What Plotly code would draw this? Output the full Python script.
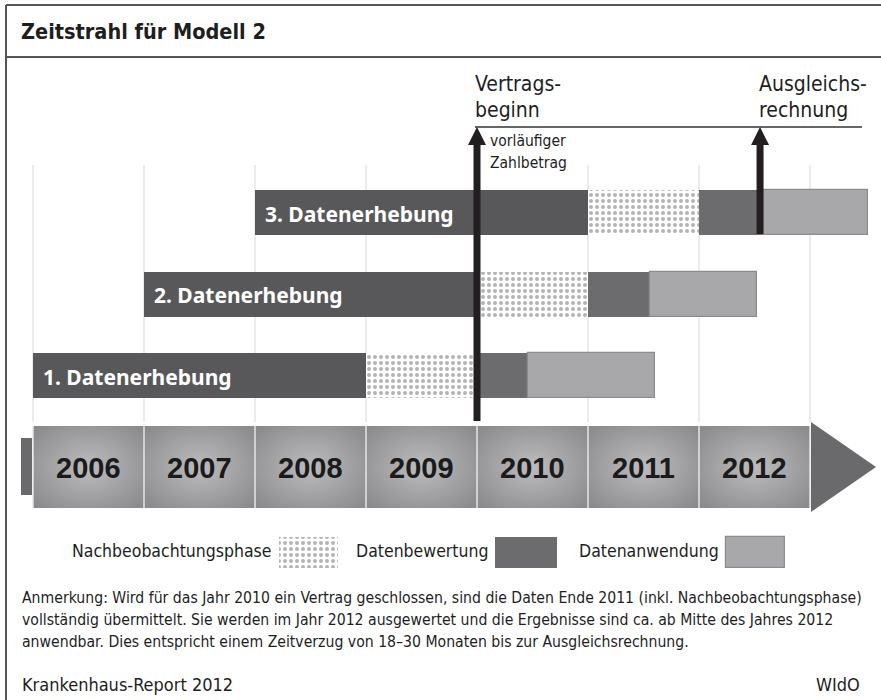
import base64
import plotly.graph_objects as go

# ---------------- data ----------------
years = [2006, 2007, 2008, 2009, 2010, 2011, 2012]
row_labels = ["1. Datenerhebung", "2. Datenerhebung", "3. Datenerhebung"]
erhebung_start = [2006.0, 2007.0, 2008.0]
erhebung_end = [2009.0, 2010.0, 2011.0]
nachbeob_end = [2010.0, 2011.0, 2012.0]
bewertung_end = [2010.46, 2011.56, 2012.58]
anwendung_end = [2011.60, 2012.52, 2013.52]
vertragsbeginn = 2010.0
ausgleichsrechnung = 2012.55
legend_labels = ["Nachbeobachtungsphase", "Datenbewertung", "Datenanwendung"]

title = "Zeitstrahl für Modell 2"
note_lines = [
    "Anmerkung: Wird für das Jahr 2010 ein Vertrag geschlossen, sind die Daten Ende 2011 (inkl. Nachbeobachtungsphase)",
    "vollständig übermittelt. Sie werden im Jahr 2012 ausgewertet und die Ergebnisse sind ca. ab Mitte des Jahres 2012",
    "anwendbar. Dies entspricht einem Zeitverzug von 18–30 Monaten bis zur Ausgleichsrechnung.",
]
source_left = "Krankenhaus-Report 2012"
source_right = "WIdO"

# ---------------- layout constants ----------------
W, H = 881, 700
X0_PX, YEAR_PX = 33.0, 111.0          # pixel of 2006 start, pixels per year
row_y = [375.5, 294.0, 212.5]
bar_h = 45
C_ERH = "#58585a"
C_BEW = "#6c6c6e"
C_ANW = "#a8a8aa"
C_DOT = "#b4b4b4"
C_ARROW = "#231f20"
NARROW = "DejaVu Sans Condensed, sans-serif"
BOLDF = "Noto Sans, Open Sans, sans-serif"
YEARF = "Liberation Sans, Arial, sans-serif"


def yr(px):
    return years[0] + (px - X0_PX) / YEAR_PX


def dx(px):
    return px / YEAR_PX


def px_(v):
    return v / W


def py_(v):
    return 1 - v / H


fig = go.Figure()

dot_marker = dict(color="white", line=dict(width=0),
                  pattern=dict(shape=".", fgcolor=C_DOT, bgcolor="white",
                               size=6, solidity=0.35, fillmode="replace"))
# ---------------- bars ----------------
phases = [
    (erhebung_start, erhebung_end, dict(color=C_ERH, line=dict(width=0))),
    (erhebung_end, nachbeob_end, dot_marker),
    (nachbeob_end, bewertung_end, dict(color=C_BEW, line=dict(width=0))),
    (bewertung_end, anwendung_end, dict(color=C_ANW, line=dict(width=1.2, color="#8c8c8e"))),
]
for starts, ends, marker in phases:
    fig.add_trace(go.Bar(
        orientation="h", y=row_y, base=starts,
        x=[e - s for s, e in zip(starts, ends)],
        width=bar_h, marker=marker, showlegend=False, hoverinfo="skip",
    ))

# legend swatches (pixel axes x2/y2)
leg_swatch_x = [279, 495, 726]
leg_swatch_w = [59, 62, 59]
leg_markers = [dot_marker, dict(color=C_BEW, line=dict(width=0)),
               dict(color=C_ANW, line=dict(width=1.2, color="#8c8c8e"))]
for sx, sw, mk in zip(leg_swatch_x, leg_swatch_w, leg_markers):
    fig.add_trace(go.Bar(orientation="h", y=[552.5], base=[sx], x=[sw], width=31,
                         marker=mk, xaxis="x2", yaxis="y2", showlegend=False, hoverinfo="skip"))

shapes = []
annotations = []

# grid lines at year boundaries
for y_ in years + [years[-1] + 1]:
    shapes.append(dict(type="line", xref="x", yref="y", x0=y_, x1=y_, y0=165, y1=422,
                       line=dict(color="#d8d8d8", width=1), layer="below"))

# timeline boxes (radial gradient image)
svg = ('<svg xmlns="http://www.w3.org/2000/svg" width="111" height="82" preserveAspectRatio="none">'
       '<defs><radialGradient id="g" cx="50%" cy="50%" r="70%">'
       '<stop offset="0%" stop-color="#bcbcbe"/><stop offset="100%" stop-color="#88888b"/>'
       '</radialGradient></defs><rect width="111" height="82" fill="url(#g)"/></svg>')
src = "data:image/svg+xml;base64," + base64.b64encode(svg.encode()).decode()
images = []
for y_ in years:
    images.append(dict(source=src, xref="x", yref="paper", x=y_, y=py_(426), sizex=1,
                       sizey=82 / H, xanchor="left", yanchor="top", sizing="stretch",
                       layer="below"))
    annotations.append(dict(x=y_ + 0.5, y=468, xref="x", yref="y", text=f"<b>{y_}</b>",
                            showarrow=False, font=dict(family=YEARF, size=29, color="#1b1b1b")))
# separators between boxes
for y_ in years + [years[-1] + 1]:
    shapes.append(dict(type="line", xref="x", yref="y", x0=y_, x1=y_, y0=426, y1=508,
                       line=dict(color="#e6e6e6", width=1.5)))
# left stub and right arrowhead of the time line
shapes.append(dict(type="rect", xref="x", yref="y", x0=years[0] - dx(12), x1=years[0] - dx(1),
                   y0=438, y1=495, fillcolor="#6a6a6c", line=dict(width=0)))
xe = years[-1] + 1
shapes.append(dict(type="path", xref="x", yref="y",
                   path=f"M {xe + dx(1)},422 L {xe + dx(66)},467 L {xe + dx(1)},512 Z",
                   fillcolor="#6a6a6c", line=dict(width=0)))

# bar labels
for lab, s, yc in zip(row_labels, erhebung_start, row_y):
    annotations.append(dict(x=s, y=yc + 1, xref="x", yref="y", xanchor="left", xshift=8,
                            text=f"<b>{lab}</b>", showarrow=False,
                            font=dict(family=BOLDF, size=21, color="white")))

# arrows
for xa, ybot in [(vertragsbeginn, 421), (ausgleichsrechnung, 234)]:
    shapes.append(dict(type="line", xref="x", yref="y", x0=xa, x1=xa, y0=140, y1=ybot,
                       line=dict(color=C_ARROW, width=7)))
    shapes.append(dict(type="path", xref="x", yref="y",
                       path=f"M {xa - dx(9)},145 L {xa},127 L {xa + dx(9)},145 Z",
                       fillcolor=C_ARROW, line=dict(width=0)))
shapes.append(dict(type="line", xref="x", yref="y", x0=vertragsbeginn - dx(2), x1=yr(862),
                   y0=127, y1=127, line=dict(color="#333333", width=1.5)))


def txt(x, y, t, size, xref="x", anchor="left", color="#1e1e1e", family=NARROW):
    annotations.append(dict(x=x, y=y, xref=xref, yref="y", xanchor=anchor, yanchor="middle",
                            text=t, showarrow=False, font=dict(family=family, size=size, color=color)))


txt(vertragsbeginn - dx(4), 84, "Vertrags-", 21)
txt(vertragsbeginn - dx(4), 110, "beginn", 21)
txt(ausgleichsrechnung - dx(3), 84, "Ausgleichs-", 21)
txt(ausgleichsrechnung - dx(3), 110, "rechnung", 21)
txt(vertragsbeginn + dx(11), 141, "vorläufiger", 15.5)
txt(vertragsbeginn + dx(11), 163, "Zahlbetrag", 15.5)

# legend texts (pixel axis)
for lab, xr in zip(legend_labels, [274, 490, 721]):
    annotations.append(dict(x=xr, y=551, xref="x2", yref="y2", xanchor="right", yanchor="middle",
                            text=lab, showarrow=False, font=dict(family=NARROW, size=17.5, color="#1e1e1e")))

# title, notes, source
annotations.append(dict(x=px_(19), y=py_(32), xref="paper", yref="paper", xanchor="left",
                        yanchor="middle", text=f"<b>{title}</b>", showarrow=False,
                        font=dict(family=NARROW, size=21.5, color="#1e1e1e")))
for i, line in enumerate(note_lines):
    annotations.append(dict(x=px_(20), y=py_(597 + 22 * i), xref="paper", yref="paper",
                            xanchor="left", yanchor="middle", text=line, showarrow=False,
                            font=dict(family=NARROW, size=15.65, color="#1e1e1e")))
annotations.append(dict(x=px_(20), y=py_(684), xref="paper", yref="paper", xanchor="left",
                        yanchor="middle", text=source_left, showarrow=False,
                        font=dict(family=NARROW, size=18, color="#1e1e1e")))
annotations.append(dict(x=px_(862), y=py_(684), xref="paper", yref="paper", xanchor="right",
                        yanchor="middle", text=source_right, showarrow=False,
                        font=dict(family=NARROW, size=18, color="#1e1e1e")))

# frame
fr = dict(color="#555555", width=2)
shapes += [
    dict(type="line", xref="paper", yref="paper", x0=px_(6), x1=px_(6), y0=py_(5), y1=py_(700), line=fr),
    dict(type="line", xref="paper", yref="paper", x0=px_(6), x1=1, y0=py_(5), y1=py_(5), line=fr),
    dict(type="line", xref="paper", yref="paper", x0=px_(6), x1=1, y0=py_(57), y1=py_(57), line=fr),
]

fig.update_layout(
    width=W, height=H, margin=dict(l=0, r=0, t=0, b=0),
    paper_bgcolor="white", plot_bgcolor="white", barmode="overlay", bargap=0,
    xaxis=dict(range=[yr(0), yr(W)], visible=False, fixedrange=True),
    yaxis=dict(range=[H, 0], visible=False, fixedrange=True),
    xaxis2=dict(range=[0, W], visible=False, overlaying="x", fixedrange=True),
    yaxis2=dict(range=[H, 0], visible=False, overlaying="y", fixedrange=True),
    shapes=shapes, annotations=annotations, images=images, showlegend=False,
)
fig.write_html("out.html", config=dict(displayModeBar=False),
               post_script="document.body.style.margin='0px';")
